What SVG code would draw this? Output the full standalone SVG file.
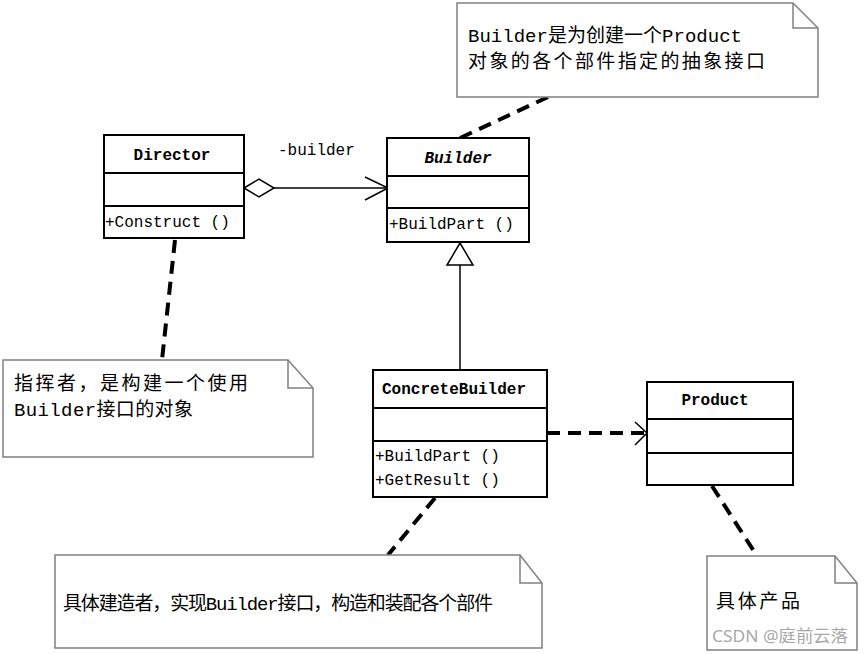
<svg xmlns="http://www.w3.org/2000/svg" width="864" height="654" viewBox="0 0 864 654">
<style>
.box{fill:#fff;stroke:#000;stroke-width:2}
.sep{stroke:#000;stroke-width:2}
.note{fill:#fff;stroke:#808080;stroke-width:1.5}
.fold{fill:none;stroke:#808080;stroke-width:1.5}
.name{font-family:"Liberation Mono","Noto Sans CJK SC",monospace;font-size:16px;font-weight:bold;fill:#000}
.op{font-family:"Liberation Mono","Noto Sans CJK SC",monospace;font-size:16px;fill:#000}
.nt{font-family:"Liberation Mono","Noto Sans CJK SC",monospace;font-size:19px;fill:#000}
.dash{stroke:#000;stroke-width:4;stroke-dasharray:13 8;fill:none}
.thin{stroke:#000;stroke-width:1.5;fill:none}
</style>
<rect width="864" height="654" fill="#fff"/>
<g id="connectors">
  <line x1="274" y1="188" x2="388" y2="188" class="thin"/>
  <polygon points="244,188 259,179 274,188 259,197" fill="#fff" stroke="#000" stroke-width="1.5"/>
  <polyline points="365,177 388,188 365,200" class="thin"/>
  <line x1="460" y1="265" x2="460" y2="370" class="thin"/>
  <polygon points="460,243 447,265 473,265" fill="#fff" stroke="#000" stroke-width="1.5"/>
  <line x1="547" y1="433" x2="645" y2="433" class="dash"/>
  <polyline points="635,422 647,433 635,445" class="thin"/>
  <line x1="548" y1="97" x2="460" y2="138" class="dash"/>
  <line x1="175" y1="240" x2="162" y2="360" class="dash"/>
  <line x1="435" y1="498" x2="388" y2="555" class="dash"/>
  <line x1="712" y1="486" x2="757" y2="556" class="dash"/>
</g>
<g id="director">
  <rect x="104" y="135" width="140" height="103" class="box"/>
  <line x1="104" y1="173" x2="244" y2="173" class="sep"/>
  <line x1="104" y1="206" x2="244" y2="206" class="sep"/>
  <text x="172" y="160" text-anchor="middle" class="name">Director</text>
  <text x="105" y="227" class="op">+Construct ()</text>
</g>
<text id="label-builder" x="278" y="155" class="op">-builder</text>
<g id="builder">
  <rect x="387" y="138" width="142" height="104" class="box"/>
  <line x1="387" y1="176" x2="529" y2="176" class="sep"/>
  <line x1="387" y1="208" x2="529" y2="208" class="sep"/>
  <text x="458" y="163" text-anchor="middle" class="name" font-style="italic">Builder</text>
  <text x="389" y="229" class="op">+BuildPart ()</text>
</g>
<g id="concretebuilder">
  <rect x="373" y="370" width="174" height="127" class="box"/>
  <line x1="373" y1="408" x2="547" y2="408" class="sep"/>
  <line x1="373" y1="441" x2="547" y2="441" class="sep"/>
  <text x="382" y="394" class="name">ConcreteBuilder</text>
  <text x="375" y="461" class="op">+BuildPart ()</text>
  <text x="375" y="485" class="op">+GetResult ()</text>
</g>
<g id="product">
  <rect x="647" y="382" width="146" height="103" class="box"/>
  <line x1="647" y1="419" x2="793" y2="419" class="sep"/>
  <line x1="647" y1="453" x2="793" y2="453" class="sep"/>
  <text x="715" y="405" text-anchor="middle" class="name">Product</text>
</g>
<g id="note-builder">
  <path d="M457,3 H793 L818,28 V97 H457 Z" class="note"/>
  <path d="M793,3 V28 H818" class="fold"/>
  <text x="468" y="42" class="nt" textLength="274" lengthAdjust="spacing">Builder是为创建一个Product</text>
  <text x="468" y="68" class="nt" textLength="297" lengthAdjust="spacing">对象的各个部件指定的抽象接口</text>
</g>
<g id="note-director">
  <path d="M3,360 H288 L313,388 V457 H3 Z" class="note"/>
  <path d="M288,360 V388 H313" class="fold"/>
  <text x="14" y="390" class="nt" textLength="234" lengthAdjust="spacing">指挥者，是构建一个使用</text>
  <text x="14" y="416" class="nt" textLength="179" lengthAdjust="spacing">Builder接口的对象</text>
</g>
<g id="note-concretebuilder">
  <path d="M55,555 H520 L542,583 V648 H55 Z" class="note"/>
  <path d="M520,555 V583 H542" class="fold"/>
  <text x="63" y="610" class="nt" textLength="430" lengthAdjust="spacing">具体建造者，实现Builder接口，构造和装配各个部件</text>
</g>
<g id="note-product">
  <path d="M707,556 H835 L857,583 V650 H707 Z" class="note"/>
  <path d="M835,556 V583 H857" class="fold"/>
  <text x="716" y="608" class="nt" textLength="84" lengthAdjust="spacing">具体产品</text>
</g>
<text x="712" y="642" font-family="'Noto Sans','Noto Sans CJK SC',sans-serif" font-size="16.5" fill="#a8a8a8" textLength="136" lengthAdjust="spacingAndGlyphs">CSDN @庭前云落</text>
</svg>
